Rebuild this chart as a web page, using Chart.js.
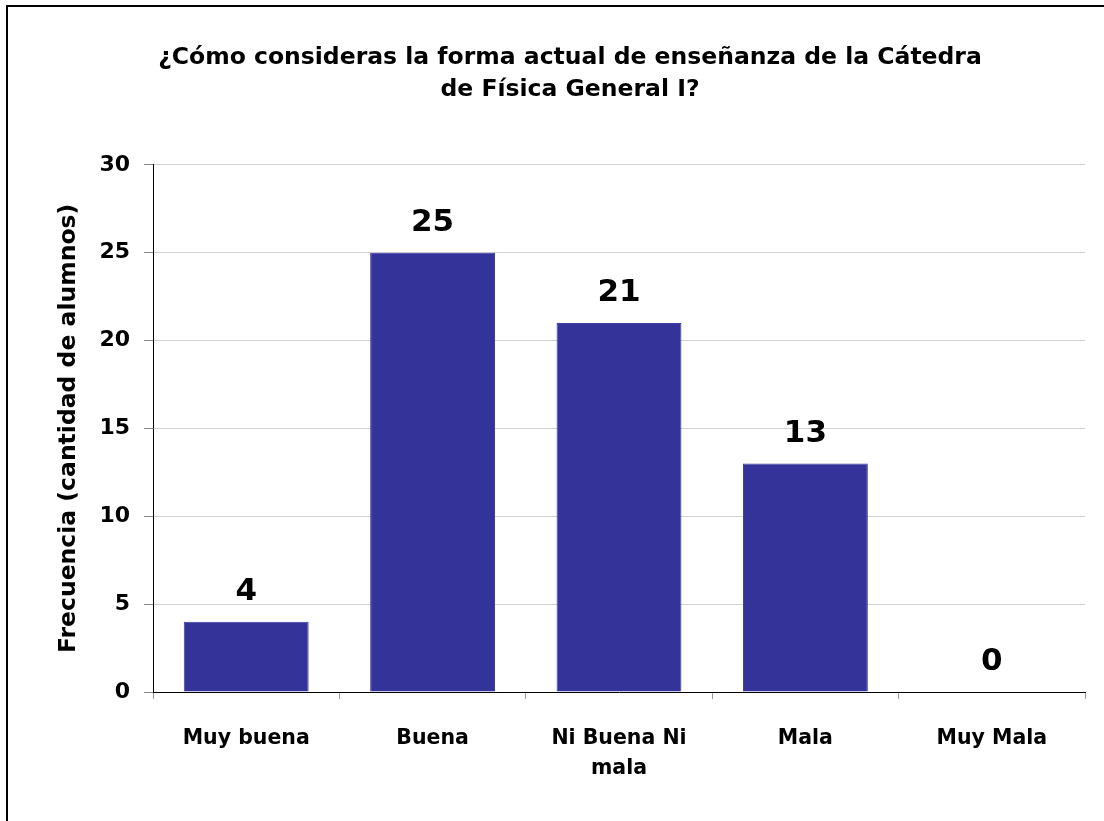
<!DOCTYPE html>
<html>
<head>
<meta charset="utf-8">
<script src="https://cdn.jsdelivr.net/npm/chart.js@4.4.0/dist/chart.umd.min.js"></script>
<style>
  html, body { margin: 0; padding: 0; background: #fff; }
  #wrap { position: relative; width: 1104px; height: 821px; overflow: hidden; }
  #frame { position: absolute; left: 6px; top: 5px; width: 1120px; height: 840px; border-left: 2px solid #000; border-top: 2px solid #000; }
  canvas { position: absolute; left: 0; top: 0; }
</style>
</head>
<body>
<div id="wrap">
  <div id="frame"></div>
  <canvas id="chart" width="1104" height="821"></canvas>
</div>
<script>
const chartTitle = ['¿Cómo consideras la forma actual de enseñanza de la Cátedra', 'de Física General I?'];
const categories = ['Muy buena', 'Buena', ['Ni Buena Ni', 'mala'], 'Mala', 'Muy Mala'];
const frecuencia = [4, 25, 21, 13, 0];
const yTicks = [0, 5, 10, 15, 20, 25, 30];
const yTitle = 'Frecuencia (cantidad de alumnos)';

const fontFamily = '"DejaVu Sans", sans-serif';

// value labels above each bar
const barLabels = {
    id: 'barLabels',
    afterDatasetsDraw(chart) {
        const ctx = chart.ctx;
        const meta = chart.getDatasetMeta(0);
        ctx.save();
        ctx.font = 'bold 31px ' + fontFamily;
        ctx.fillStyle = '#000';
        ctx.textAlign = 'center';
        ctx.textBaseline = 'middle';
        meta.data.forEach(function (bar, i) {
            ctx.fillText(String(frecuencia[i]), bar.x, bar.y - 30);
        });
        ctx.restore();
    }
};

const ctx = document.getElementById('chart').getContext('2d');
new Chart(ctx, {
    type: 'bar',
    data: {
        labels: categories,
        datasets: [{
            data: frecuencia,
            backgroundColor: '#333399',
            borderColor: '#3a3aa0',
            borderWidth: 1,
            barPercentage: 0.67,
            categoryPercentage: 1
        }]
    },
    options: {
        responsive: false,
        animation: false,
        devicePixelRatio: 1,
        layout: { padding: { left: 55, right: 19, top: 0, bottom: 0 } },
        plugins: {
            legend: { display: false },
            tooltip: { enabled: false },
            title: {
                display: true,
                text: chartTitle,
                color: '#000',
                font: { family: fontFamily, size: 23.5, weight: 'bold', lineHeight: 1.4 },
                padding: { top: 41, bottom: 58 }
            }
        },
        scales: {
            x: {
                grid: {
                    drawOnChartArea: false,
                    tickLength: 7,
                    color: '#999'
                },
                border: { color: '#000', width: 1 },
                ticks: {
                    color: '#000',
                    font: { family: fontFamily, size: 20.5, weight: 'bold', lineHeight: 1.45 },
                    padding: 25,
                    maxRotation: 0,
                    autoSkip: false
                },
                afterFit: function (scale) { scale.height = 129; }
            },
            y: {
                min: 0,
                max: 30,
                afterBuildTicks: function (scale) {
                    scale.ticks = yTicks.map(function (v) { return { value: v }; });
                },
                grid: {
                    color: '#d0d0d0',
                    tickColor: '#888',
                    tickLength: 9
                },
                border: { color: '#000', width: 1 },
                ticks: {
                    color: '#000',
                    font: { family: fontFamily, size: 22, weight: 'bold' },
                    padding: 14
                },
                title: {
                    display: true,
                    text: yTitle,
                    color: '#000',
                    font: { family: fontFamily, size: 23.5, weight: 'bold' },
                    padding: 0
                },
                afterFit: function (scale) { scale.width = 98; }
            }
        }
    },
    plugins: [barLabels]
});
</script>
</body>
</html>
